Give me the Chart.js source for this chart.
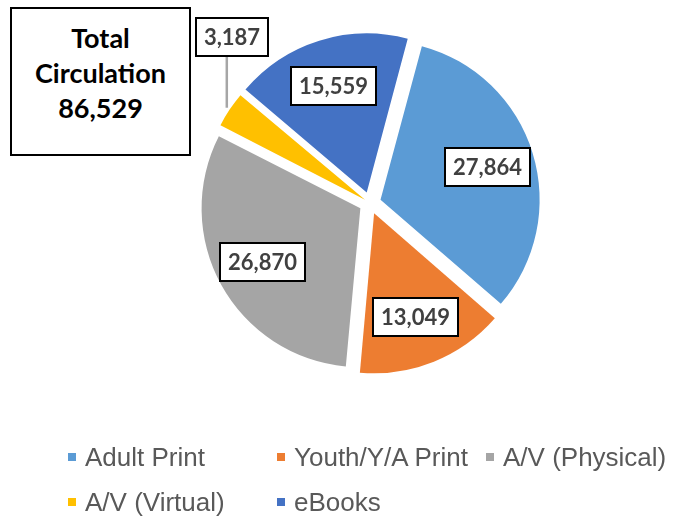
<!DOCTYPE html>
<html>
<head>
<meta charset="utf-8">
<script src="https://cdn.jsdelivr.net/npm/chart.js@4/dist/chart.umd.min.js"></script>
<style>
  html, body { margin: 0; padding: 0; background: #fff; }
  #wrap { position: relative; width: 687px; height: 519px; overflow: hidden; }
  #chart { position: absolute; left: 0; top: 0; }
  #total {
    position: absolute; left: 10px; top: 7px; width: 177px; height: 134px;
    border: 2px solid #000; background: #fff;
    font: bold 27px Lato, "Open Sans", sans-serif; color: #000;
    text-align: center; line-height: 35px; padding-top: 11px; box-sizing: content-box;
  }
  .leg-box { position: absolute; width: 8px; height: 8px; }
  .leg-text {
    position: absolute; white-space: nowrap;
    font: 26px "Liberation Sans", Arial, sans-serif; color: #595959; line-height: 30px;
  }
</style>
</head>
<body>
<div id="wrap">
  <canvas id="chart" width="687" height="519"></canvas>
  <div id="total"></div>
  <div id="legend"></div>
</div>
<script>
const categories = ['Adult Print', 'Youth/Y/A Print', 'A/V (Physical)', 'A/V (Virtual)', 'eBooks'];
const circulation = [27864, 13049, 26870, 3187, 15559];
const sliceColors = ['#5B9BD5', '#ED7D31', '#A5A5A5', '#FFC000', '#4472C4'];

const fmt = n => n.toLocaleString('en-US');

// total box
const total = circulation.reduce((s, v) => s + v, 0);
document.getElementById('total').innerHTML = 'Total<br>Circulation<br>' + fmt(total);

// legend laid out on a 3-column grid like the original
const legend = document.getElementById('legend');
categories.forEach((name, i) => {
  const col = i % 3, row = Math.floor(i / 3);
  const x = 68 + col * 209, y = 453 + row * 45;
  const box = document.createElement('div');
  box.className = 'leg-box';
  box.style.left = x + 'px'; box.style.top = y + 'px';
  box.style.background = sliceColors[i];
  const txt = document.createElement('div');
  txt.className = 'leg-text';
  txt.style.left = (x + 17) + 'px'; txt.style.top = (y - 11) + 'px';
  txt.textContent = name;
  legend.appendChild(box); legend.appendChild(txt);
});

// value labels in boxes, small slices get a leader line
const sliceLabels = {
  id: 'sliceLabels',
  afterDatasetsDraw(chart) {
    const ctx = chart.ctx;
    const meta = chart.getDatasetMeta(0);
    ctx.save();
    ctx.font = 'bold 22px Lato, "Open Sans", sans-serif';
    ctx.textAlign = 'center';
    ctx.textBaseline = 'middle';
    meta.data.forEach((arc, i) => {
      const p = arc.getProps(['x', 'y', 'startAngle', 'endAngle', 'outerRadius', 'circumference'], true);
      const mid = (p.startAngle + p.endAngle) / 2;
      const text = fmt(circulation[i]);
      const w = Math.round(ctx.measureText(text).width + 16), h = 38;
      let cx, cy;
      if (p.circumference < 0.5) {
        const lx = p.x + Math.cos(mid) * (p.outerRadius + 14);
        const ly = p.y + Math.sin(mid) * (p.outerRadius + 14);
        const top = ly - 52;
        ctx.strokeStyle = '#A6A6A6';
        ctx.lineWidth = 2.5;
        ctx.beginPath();
        ctx.moveTo(lx, ly);
        ctx.lineTo(lx, top);
        ctx.stroke();
        cx = lx + 5; cy = top - h / 2;
      } else {
        const d = p.outerRadius * 0.7 + 12;
        cx = p.x + Math.cos(mid) * d;
        cy = p.y + Math.sin(mid) * d;
      }
      const bx = Math.round(cx - w / 2), by = Math.round(cy - h / 2);
      ctx.fillStyle = '#fff';
      ctx.fillRect(bx, by, w, h);
      ctx.strokeStyle = '#000';
      ctx.lineWidth = 2;
      ctx.strokeRect(bx, by, w, h);
      ctx.fillStyle = '#404040';
      ctx.fillText(text, bx + w / 2, by + h / 2 + 1);
    });
    ctx.restore();
  }
};

new Chart(document.getElementById('chart').getContext('2d'), {
  type: 'pie',
  data: {
    labels: categories,
    datasets: [{
      data: circulation,
      backgroundColor: sliceColors,
      borderWidth: 0,
      offset: [44, 44, 44, 24, 44],
      radius: 158
    }]
  },
  options: {
    responsive: false,
    animation: false,
    rotation: 15,
    layout: { padding: { left: 53, right: 0, top: 0, bottom: 113 } },
    plugins: {
      legend: { display: false },
      tooltip: { enabled: false }
    }
  },
  plugins: [sliceLabels]
});
</script>
</body>
</html>
